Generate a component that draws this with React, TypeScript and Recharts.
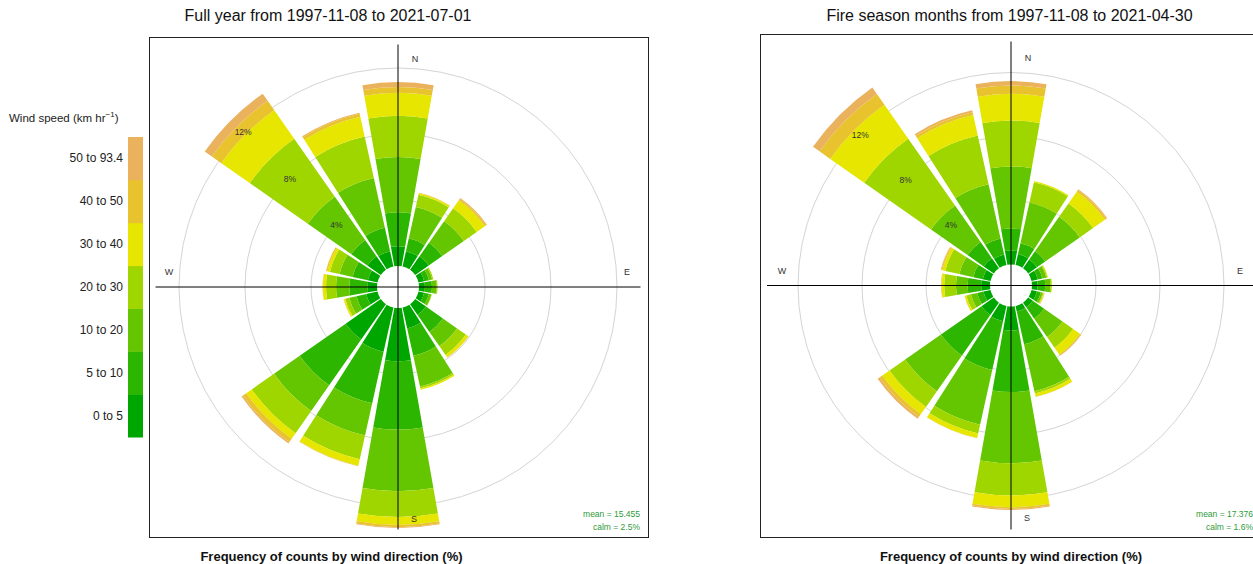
import React from 'react';
import { RadialBarChart, RadialBar, PolarAngleAxis, PolarRadiusAxis, PolarGrid } from 'recharts';

const FONT = '"Liberation Sans", Arial, Helvetica, sans-serif';

// ---------- data ----------
const directions = ['N', 'NNE', 'NE', 'ENE', 'E', 'ESE', 'SE', 'SSE', 'S', 'SSW', 'SW', 'WSW', 'W', 'WNW', 'NW', 'NNW'];
const speedBins = ['0 to 5', '5 to 10', '10 to 20', '20 to 30', '30 to 40', '40 to 50', '50 to 93.4'];
const speedColours = ['#00A600', '#2DB600', '#63C600', '#A0D600', '#E6E600', '#E8C32E', '#EBB25E'];
const gridPercents = [4, 8, 12];

// Full year: frequency (%) per direction for each wind-speed bin
const fullYear0to5 = [1.2, 0.95, 1.0, 0.35, 0.36, 0.35, 0.8, 1.3, 3.23, 2.75, 2.6, 0.7, 0.57, 0.6, 1.0, 0.95];
const fullYear5to10 = [2.05, 0.8, 1.0, 0.3, 0.43, 0.3, 1.25, 1.7, 4.14, 3.2, 3.4, 0.6, 1.11, 0.95, 1.2, 1.45];
const fullYear10to20 = [3.35, 1.95, 1.6, 0.2, 0.29, 0.15, 1.05, 1.9, 3.73, 2.0, 1.9, 0.45, 0.8, 0.8, 3.2, 3.1];
const fullYear20to30 = [2.5, 0.75, 0.95, 0.07, 0.05, 0.03, 0.65, 0.12, 1.57, 1.47, 1.65, 0.25, 0.61, 0.6, 4.3, 2.57];
const fullYear30to40 = [1.4, 0.1, 0.6, 0.01, 0, 0, 0.18, 0.08, 0.48, 0.4, 0.4, 0.08, 0.19, 0.17, 2.1, 1.23];
const fullYear40to50 = [0.35, 0.03, 0.1, 0, 0, 0, 0.02, 0, 0.13, 0.03, 0.25, 0.02, 0.02, 0.08, 0.7, 0.18];
const fullYear50plus = [0.3, 0, 0.06, 0, 0, 0, 0, 0, 0.05, 0, 0.1, 0, 0, 0, 0.53, 0.07];

// Fire season months
const fire0to5 = [0.88, 0.7, 0.67, 0.4, 0.35, 0.35, 0.35, 0.35, 1.5, 0.98, 0.94, 0.45, 0.56, 0.5, 0.77, 0.67];
const fire5to10 = [1.37, 0.7, 0.63, 0.3, 0.48, 0.25, 0.87, 2.1, 3.85, 3.12, 3.09, 0.4, 0.84, 0.6, 1.23, 1.03];
const fire10to20 = [3.88, 2.6, 2.63, 0.25, 0.32, 0.12, 1.4, 3.0, 4.44, 3.5, 2.73, 0.4, 0.73, 0.9, 2.79, 3.47];
const fire20to30 = [2.87, 1.3, 1.02, 0.07, 0.09, 0.06, 0.81, 0.15, 2.02, 0.56, 1.19, 0.3, 0.73, 0.9, 5.1, 3.12];
const fire30to40 = [1.67, 0.07, 0.9, 0.04, 0.01, 0.04, 0.52, 0.2, 0.73, 0.29, 0.55, 0.1, 0.16, 0.18, 2.59, 1.31];
const fire40to50 = [0.52, 0, 0.12, 0, 0, 0.02, 0.07, 0.02, 0.11, 0.02, 0.22, 0.02, 0.04, 0.07, 0.82, 0.18];
const fire50plus = [0.27, 0, 0.06, 0, 0, 0.01, 0.03, 0, 0.06, 0, 0.14, 0, 0, 0.04, 0.5, 0.12];

const fullYearSeries = [fullYear0to5, fullYear5to10, fullYear10to20, fullYear20to30, fullYear30to40, fullYear40to50, fullYear50plus];
const fireSeries = [fire0to5, fire5to10, fire10to20, fire20to30, fire30to40, fire40to50, fire50plus];

function buildRows(series: number[][]) {
  return directions.map((dir, i) => {
    const row: Record<string, any> = { dir };
    series.forEach((s, j) => {
      row['b' + j] = s[i];
    });
    return row;
  });
}

const fullYearRows = buildRows(fullYearSeries);
const fireRows = buildRows(fireSeries);

// ---------- components ----------
const pctTick = (props: any) => {
  const { x, y, payload } = props;
  return (
    <text x={x} y={y} textAnchor="middle" dominantBaseline="central" fontSize={8.5} fill="#333" fontFamily={FONT}>
      {payload.value}%
    </text>
  );
};

type PanelProps = {
  rows: any[];
  boxLeft: number;
  boxTop: number;
  boxWidth: number;
  boxHeight: number;
  cx: number;
  cy: number;
  hole: number;
  pxPerPct: number;
  maxPct: number;
};

function WindRosePanel(p: PanelProps) {
  const { rows, boxLeft, boxTop, boxWidth, boxHeight, cx, cy, hole, pxPerPct, maxPct } = p;
  const outer = hole + pxPerPct * maxPct;
  const gridRadii = gridPercents.map((v) => hole + pxPerPct * v);
  const chartLeft = boxLeft + 1;
  const chartTop = boxTop + 1;
  const w = boxWidth - 2;
  const h = boxHeight - 2;
  const half = 360 / directions.length / 2;
  return (
    <>
      <div
        style={{
          position: 'absolute',
          left: boxLeft,
          top: boxTop,
          width: boxWidth,
          height: boxHeight,
          border: '1px solid #222',
          boxSizing: 'border-box',
        }}
      />
      <div style={{ position: 'absolute', left: chartLeft, top: chartTop }}>
        <RadialBarChart
          width={w}
          height={h}
          data={rows}
          layout="centric"
          cx={cx - chartLeft}
          cy={cy - chartTop}
          innerRadius={hole}
          outerRadius={outer}
          startAngle={90 - half}
          endAngle={90 - half - 360}
          barCategoryGap="5.5%"
          margin={{ top: 0, right: 0, bottom: 0, left: 0 }}
        >
          <PolarGrid gridType="circle" radialLines={false} polarRadius={gridRadii} stroke="#d4d4d4" />
          <PolarAngleAxis dataKey="dir" type="category" tick={false} tickLine={false} axisLine={false} />
          {speedBins.map((b, j) => (
            <RadialBar key={b} dataKey={'b' + j} stackId="ws" fill={speedColours[j]} isAnimationActive={false} />
          ))}
          <PolarRadiusAxis
            type="number"
            domain={[0, maxPct]}
            ticks={gridPercents}
            angle={135}
            axisLine={false}
            tickLine={false}
            tick={pctTick}
          />
        </RadialBarChart>
      </div>
    </>
  );
}

type OverlayProps = {
  cx: number;
  cy: number;
  axisHalf: number;
  title: string;
  titleX: number;
  footX: number;
  mean: string;
  calm: string;
};

function PanelOverlay(p: OverlayProps) {
  const { cx, cy, axisHalf, title, titleX, footX, mean, calm } = p;
  const compass = [
    { t: 'N', dx: 17, dy: -228 },
    { t: 'E', dx: 229, dy: -15 },
    { t: 'S', dx: 16, dy: 232 },
    { t: 'W', dx: -229, dy: -15 },
  ];
  return (
    <g fontFamily={FONT}>
      <text x={titleX} y={15} textAnchor="middle" dominantBaseline="central" fontSize={16} fill="#111">
        {title}
      </text>
      <line x1={cx} y1={cy - axisHalf} x2={cx} y2={cy + axisHalf} stroke="#000" strokeWidth={1} />
      <line x1={cx - axisHalf} y1={cy} x2={cx + axisHalf} y2={cy} stroke="#000" strokeWidth={1} />
      {compass.map((c) => (
        <text key={c.t} x={cx + c.dx} y={cy + c.dy} textAnchor="middle" dominantBaseline="central" fontSize={9} fill="#333">
          {c.t}
        </text>
      ))}
      <text x={cx + 242} y={514} textAnchor="end" dominantBaseline="central" fontSize={8.5} fill="#2f9a3a">
        {mean}
      </text>
      <text x={cx + 242} y={527} textAnchor="end" dominantBaseline="central" fontSize={8.5} fill="#2f9a3a">
        {calm}
      </text>
      <text x={footX} y={556} textAnchor="middle" dominantBaseline="central" fontSize={13} fontWeight="bold" fill="#111">
        Frequency of counts by wind direction (%)
      </text>
    </g>
  );
}

function SpeedLegend() {
  const top = 137;
  const bottom = 437;
  const segH = (bottom - top) / speedBins.length;
  return (
    <g fontFamily={FONT}>
      <text x={9} y={118} dominantBaseline="central" fontSize={11.5} fill="#222">
        Wind speed (km hr
        <tspan dy={-4} fontSize={8}>
          −1
        </tspan>
        <tspan dy={4}>)</tspan>
      </text>
      {speedBins.map((b, j) => {
        const y = bottom - (j + 1) * segH;
        return (
          <g key={b}>
            <rect x={128} y={y} width={15} height={segH + 0.5} fill={speedColours[j]} />
            <text x={123} y={y + segH / 2} textAnchor="end" dominantBaseline="central" fontSize={12} fill="#222">
              {b}
            </text>
          </g>
        );
      })}
    </g>
  );
}

export default function App() {
  return (
    <div
      style={{
        position: 'absolute',
        left: 0,
        top: 0,
        width: 1253,
        height: 564,
        overflow: 'hidden',
        background: '#fff',
      }}
    >
      <WindRosePanel
        rows={fullYearRows}
        boxLeft={149}
        boxTop={37}
        boxWidth={500}
        boxHeight={501}
        cx={398}
        cy={287}
        hole={21}
        pxPerPct={16.5}
        maxPct={14}
      />
      <WindRosePanel
        rows={fireRows}
        boxLeft={760}
        boxTop={34}
        boxWidth={503}
        boxHeight={504}
        cx={1011}
        cy={285.5}
        hole={21}
        pxPerPct={16}
        maxPct={14}
      />
      <svg
        width={1253}
        height={564}
        style={{ position: 'absolute', left: 0, top: 0, pointerEvents: 'none' }}
      >
        <SpeedLegend />
        <PanelOverlay
          cx={398}
          cy={287}
          axisHalf={242.5}
          title="Full year from 1997-11-08 to 2021-07-01"
          titleX={328}
          footX={331.5}
          mean="mean = 15.455"
          calm="calm = 2.5%"
        />
        <PanelOverlay
          cx={1011}
          cy={285.5}
          axisHalf={244}
          title="Fire season months from 1997-11-08 to 2021-04-30"
          titleX={1009.5}
          footX={1011}
          mean="mean = 17.376"
          calm="calm = 1.6%"
        />
      </svg>
    </div>
  );
}
